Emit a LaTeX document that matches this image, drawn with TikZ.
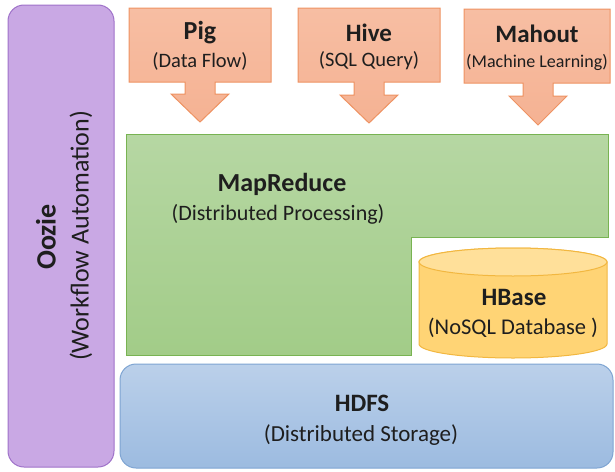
\documentclass[tikz,border=0pt]{standalone}
\usepackage{fontspec}
\setmainfont{Carlito}
\definecolor{orfill}{HTML}{F5B293}
\definecolor{orfillt}{HTML}{F7BEA3}
\definecolor{ordraw}{HTML}{EE9262}
\definecolor{grfillt}{HTML}{B6D7A3}
\definecolor{grfillb}{HTML}{A2CC88}
\definecolor{grdraw}{HTML}{78B352}
\definecolor{pufill}{HTML}{C9A8E4}
\definecolor{pudraw}{HTML}{9F72C9}
\definecolor{blfillt}{HTML}{BBD0EA}
\definecolor{blfillb}{HTML}{9CBBE0}
\definecolor{bldraw}{HTML}{7EA4D2}
\definecolor{yefill}{HTML}{FFD475}
\definecolor{yefillt}{HTML}{FFE09A}
\definecolor{yedraw}{HTML}{F2B740}
\definecolor{txt}{HTML}{1E1E1E}
\tikzset{
  ttl/.style={font=\fontsize{25}{29}\selectfont\bfseries, text=txt, inner sep=0pt},
  sub/.style={font=\fontsize{20.5}{24}\selectfont, text=txt, inner sep=0pt},
  orshape/.style={draw=ordraw, line width=1pt, top color=orfillt, bottom color=orfill},
}
\begin{document}
\begin{tikzpicture}[x=1pt,y=-1pt]
\useasboundingbox (0,0) rectangle (615,471);
% Oozie
\draw[draw=pudraw, fill=pufill, line width=1pt, rounded corners=16pt] (8,5) rectangle (114,467);
\node[ttl, font=\fontsize{28}{32}\selectfont\bfseries, rotate=90] (oozie) at (46,237) {Oozie};
\node[sub, font=\fontsize{26}{30}\selectfont, rotate=90] (oozies) at (81,236) {(Workflow Automation)};
% Pig
\draw[orshape] (129,8) -- (271,8) -- (271,82) -- (215,82) -- (215,94) -- (229,94) -- (200,122) -- (171,94) -- (185,94) -- (185,82) -- (129,82) -- cycle;
\node[ttl, font=\fontsize{26}{30}\selectfont\bfseries] (pig) at (200,33) {Pig};
\node[sub] (pigs) at (200,61) {(Data Flow)};
% Hive
\draw[orshape] (298,8) -- (440,8) -- (440,82) -- (384,82) -- (384,95) -- (398,95) -- (369,123) -- (340,95) -- (354,95) -- (354,82) -- (298,82) -- cycle;
\node[ttl] (hive) at (369,33) {Hive};
\node[sub] (hives) at (369,61) {(SQL Query)};
% Mahout
\draw[orshape] (464,9) -- (610,9) -- (610,83) -- (553,83) -- (553,96) -- (567,96) -- (538,125) -- (509,96) -- (523,96) -- (523,83) -- (464,83) -- cycle;
\node[ttl] (mahout) at (537,34) {Mahout};
\node[sub, font=\fontsize{18}{22}\selectfont] (mahouts) at (537,62) {(Machine Learning)};
% MapReduce
\draw[draw=grdraw, line width=1pt, top color=grfillt, bottom color=grfillb] (126,134) -- (608,134) -- (608,237) -- (411,237) -- (411,355) -- (126,355) -- cycle;
\node[ttl, font=\fontsize{26}{30}\selectfont\bfseries] (mr) at (282,184) {MapReduce};
\node[sub, font=\fontsize{22}{26}\selectfont] (mrs) at (278,214) {(Distributed Processing)};
% HBase cylinder
\draw[draw=yedraw, line width=1pt, fill=yefill] (419,262) -- (419,344) arc[start angle=180, end angle=360, x radius=94pt, y radius=14pt] -- (607,262) arc[start angle=0, end angle=180, x radius=94pt, y radius=14pt] -- cycle;
\draw[draw=yedraw, line width=1pt, fill=yefillt] (513,262) ellipse [x radius=94pt, y radius=14pt];
\node[ttl] (hbase) at (514,297) {HBase};
\node[sub, font=\fontsize{22.5}{26}\selectfont] (hbases) at (513,328) {(NoSQL Database )};
% HDFS
\draw[draw=bldraw, line width=1pt, top color=blfillt, bottom color=blfillb, rounded corners=16pt] (120,364) rectangle (613,468);
\node[ttl] (hdfs) at (362,403) {HDFS};
\node[sub, font=\fontsize{23}{27}\selectfont] (hdfss) at (361,435) {(Distributed Storage)};
\end{tikzpicture}
\end{document}
